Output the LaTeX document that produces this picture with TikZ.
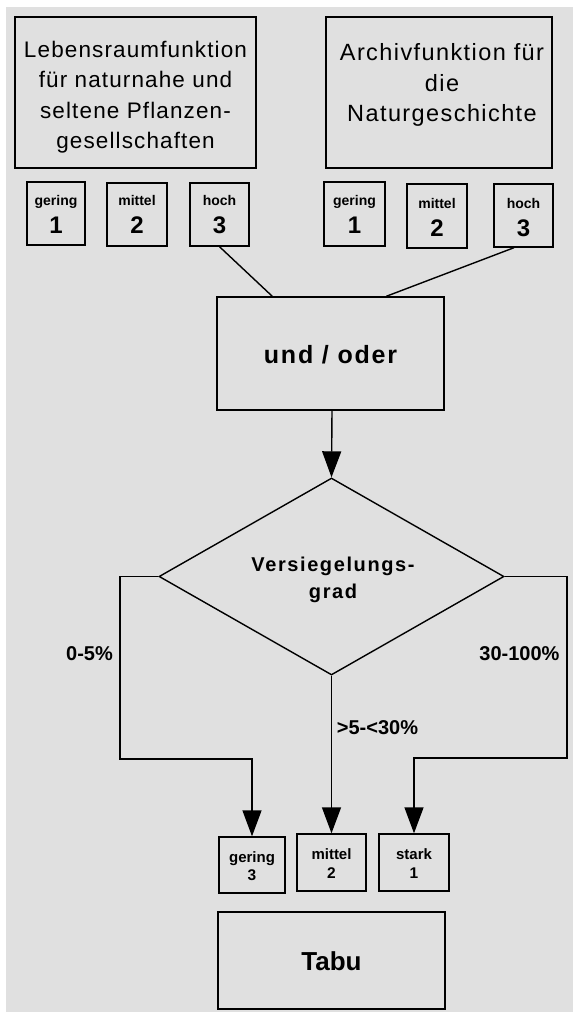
\documentclass[tikz,border=0pt]{standalone}
\usepackage{fontspec}
\setmainfont{Liberation Sans}
\newfontfamily\wideA[LetterSpace=5]{Liberation Sans}
\newfontfamily\wideB[LetterSpace=6]{Liberation Sans}
\newfontfamily\wider[LetterSpace=7]{Liberation Sans}
\newfontfamily\widerd[LetterSpace=8]{Liberation Sans}
\usetikzlibrary{arrows.meta,shapes.geometric,calc}
\definecolor{bg}{RGB}{224,224,224}
\begin{document}
\begin{tikzpicture}[x=1pt,y=-1pt,
  box/.style={draw=black,line width=1.4pt,inner sep=0pt,fill=bg},
  bigtxt/.style={align=center,inner sep=0pt},
  slab/.style={anchor=base,inner sep=0pt,font=\bfseries\fontsize{14}{16}\selectfont},
  snum/.style={anchor=base,inner sep=0pt,font=\bfseries\fontsize{24}{26}\selectfont},
  blab/.style={anchor=base,inner sep=0pt,font=\bfseries\fontsize{15}{17}\selectfont},
  bnum/.style={anchor=base,inner sep=0pt,font=\bfseries\fontsize{15.5}{17}\selectfont},
  edgelab/.style={anchor=base,inner sep=0pt,font=\bfseries\fontsize{20}{22}\selectfont},
  conn/.style={draw=black,line width=1.4pt},
  arr/.style={conn,-{Triangle[length=26pt,width=19pt]}}]
\useasboundingbox (0,0) rectangle (573,1012);
\fill[bg] (6,7) rectangle (573,1012);

% top boxes
\node[box,minimum width=241,minimum height=151] (lb) at (135.5,92.5) {};
\node[bigtxt,font=\wideA\fontsize{22.5}{30.5}\selectfont] (lbt) at (135.5,97) {Lebensraumfunktion\\für naturnahe und\\seltene Pflanzen-\\gesellschaften};
\node[box,minimum width=226,minimum height=151] (rb) at (439,92.5) {};
\node[bigtxt,font=\wideB\fontsize{23.5}{30.8}\selectfont] (rbt) at (442,85) {Archivfunktion für\\die\\Naturgeschichte};

% small top-left boxes
\node[box,minimum width=58,minimum height=63] (lg) at (56,213.5) {};
\node[slab] (lgl) at (56,205) {gering};
\node[snum] (lgn) at (56,233) {1};
\node[box,minimum width=60,minimum height=63] (lm) at (137,214.5) {};
\node[slab] (lml) at (137,205) {mittel};
\node[snum] (lmn) at (137,233) {2};
\node[box,minimum width=59,minimum height=63] (lh) at (219.5,214.5) {};
\node[slab] (lhl) at (219.5,205) {hoch};
\node[snum] (lhn) at (219.5,233) {3};

% small top-right boxes
\node[box,minimum width=61,minimum height=64] (rg) at (354.5,214) {};
\node[slab] (rgl) at (354.5,205) {gering};
\node[snum] (rgn) at (354.5,233) {1};
\node[box,minimum width=60,minimum height=64] (rm) at (437,216) {};
\node[slab] (rml) at (437,208) {mittel};
\node[snum] (rmn) at (437,236) {2};
\node[box,minimum width=59,minimum height=63] (rh) at (523.5,215.5) {};
\node[slab] (rhl) at (523.5,208) {hoch};
\node[snum] (rhn) at (523.5,236) {3};

% und / oder
\node[box,minimum width=227,minimum height=113] (uo) at (330.5,353.5) {};
\node[inner sep=0pt,anchor=base,font=\wider\bfseries\fontsize{25}{27}\selectfont] (uot) at (330.5,363.3) {und / oder};

\draw[conn] (lh.south) -- ($(uo.north west)+(56,0)$);
\draw[conn] ($(rh.south)+(-9.5,0)$) -- ($(uo.north west)+(170,0)$);

% diamond
\node[draw=black,line width=1.4pt,fill=bg,diamond,inner sep=0pt,shape aspect=1.75,minimum width=345,minimum height=197] (d) at (331.5,576.5) {};
\node[inner sep=0pt,align=center,font=\widerd\bfseries\fontsize{20}{27.6}\selectfont] (dt) at (333,580) {Versiegelungs-\\grad};

\draw[arr] ($(uo.south)+(1.5,0)$) -- (d.north);

% bottom small boxes
\node[box,minimum width=66,minimum height=56] (g3) at (252,865) {};
\node[blab] (g3l) at (252,862.7) {gering};
\node[bnum] (g3n) at (252,880.7) {3};
\node[box,minimum width=69,minimum height=57] (m2) at (331.5,862.5) {};
\node[blab] (m2l) at (331.5,859.3) {mittel};
\node[bnum] (m2n) at (331.5,878.3) {2};
\node[box,minimum width=70,minimum height=57] (s1) at (414,862.5) {};
\node[blab] (s1l) at (414,859.3) {stark};
\node[bnum] (s1n) at (414,878.3) {1};

% Tabu
\node[box,minimum width=227,minimum height=97] (tb) at (331.5,960.5) {};
\node[inner sep=0pt,anchor=base,font=\bfseries\fontsize{26}{28}\selectfont] (tbt) at (331.5,970) {Tabu};

% branches
\coordinate (lc) at (120,759);
\coordinate (rc) at (567,758);
\draw[arr] (d.west) -| (lc) -| (g3.north);
\draw[arr] (d.south) -- (m2.north);
\draw[arr] (d.east) -| (rc) -| (s1.north);

\node[edgelab] (l1) at (89.5,660) {0-5\%};
\node[edgelab] (l2) at (519.5,660) {30-100\%};
\node[edgelab] (l3) at (377.5,734) {>5-<30\%};
\end{tikzpicture}
\end{document}
